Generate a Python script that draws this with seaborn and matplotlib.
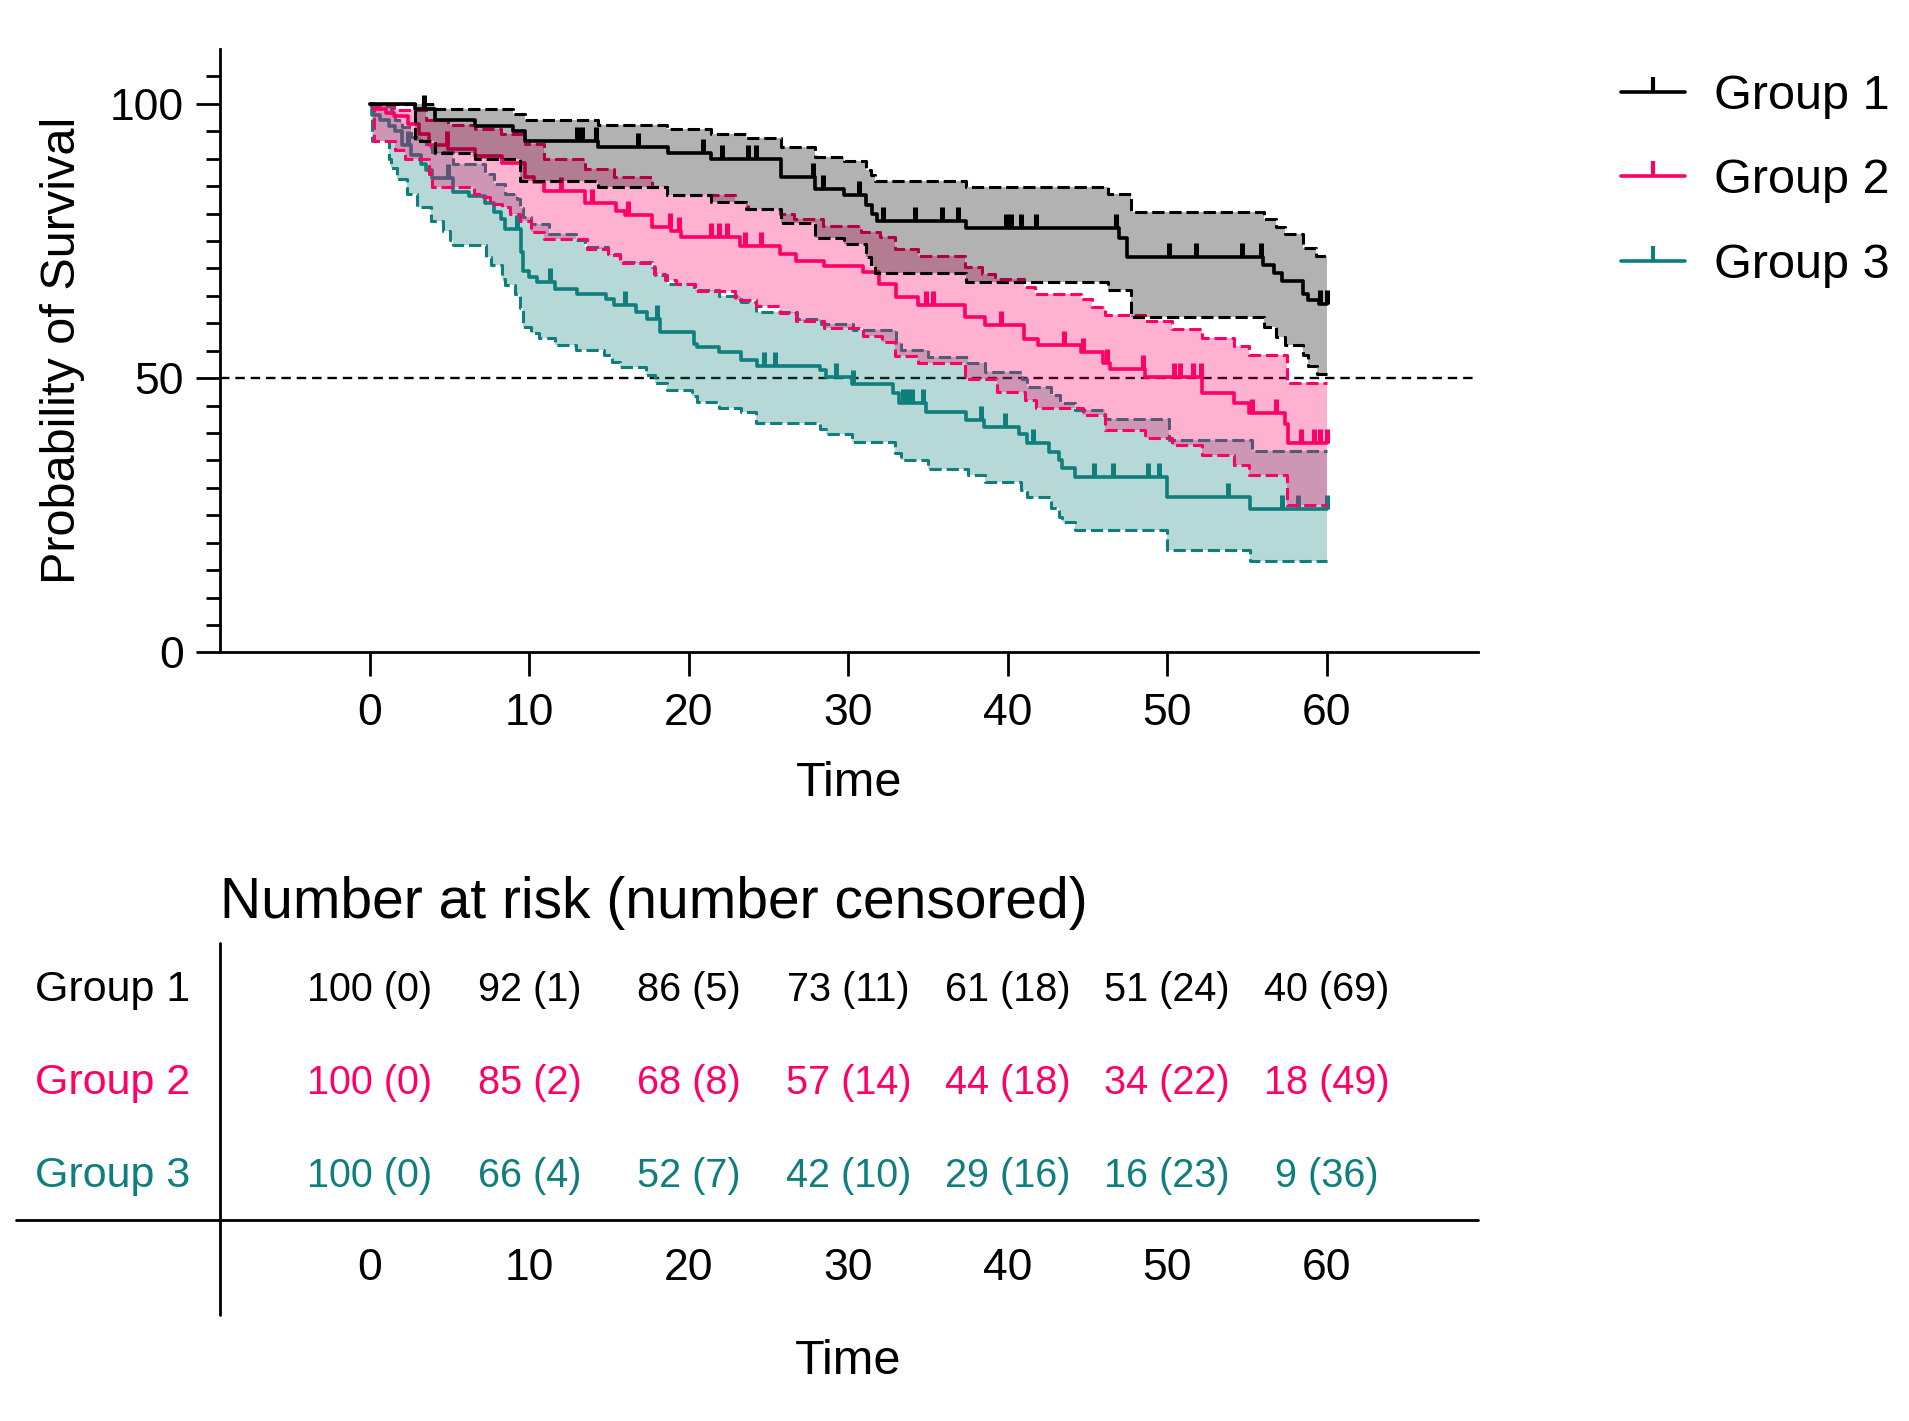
import numpy as np
import seaborn as sns
import matplotlib.pyplot as plt
from matplotlib.lines import Line2D

# ---- Kaplan-Meier steps (time, % surviving) ----
g1_t = [0, 2.8, 4.1, 6.6, 9.0, 9.7, 14.3, 18.7, 21.4, 25.8, 27.9, 29.7, 31.1, 31.5, 31.8,
        37.4, 47.0, 47.5, 56.0, 56.7, 57.2, 58.5, 58.8, 59.5, 60]
g1_s = [100, 99, 97, 96, 95, 93.3, 92.1, 91.0, 90.0, 86.7, 84.5, 83.3, 81.5, 80.0, 78.7,
        77.4, 75.5, 72.0, 70.6, 69.2, 67.7, 65.4, 64.2, 63.6, 63.6]
g1_hi_t = [0, 4.1, 9.0, 9.7, 14.3, 18.6, 21.4, 23.6, 25.8, 27.9, 29.7, 31.1, 31.4, 31.7, 37.4,
           46.3, 47.7, 56.1, 56.8, 57.4, 58.5, 59.3, 60]
g1_hi = [100, 99.1, 98.2, 97.0, 96.1, 95.5, 94.5, 93.7, 92.1, 90.4, 89.6, 88.0, 87.0, 85.9, 84.8,
         83.6, 80.3, 79.0, 77.5, 76.3, 73.8, 72.3, 72.3]
g1_lo_t = [0, 2.8, 4.1, 6.6, 9.4, 14.3, 18.6, 21.4, 23.6, 25.8, 27.9, 29.7, 31.1, 31.4, 31.7,
           37.4, 46.3, 47.7, 56.1, 56.8, 57.4, 58.5, 58.8, 59.4, 60]
g1_lo = [100, 93.3, 91.1, 89.9, 86.0, 84.8, 83.3, 82.1, 80.9, 78.2, 75.5, 74.4, 72.0, 70.5, 69.2,
         67.6, 66.1, 61.2, 59.3, 57.5, 56.0, 54.2, 52.3, 50.8, 50.8]
g1_cens = [3.4, 13.0, 13.3, 14.2, 16.8, 20.9, 22.1, 23.7, 24.2, 27.8, 28.4, 30.7, 32.2, 34.2,
           35.9, 36.9, 39.9, 40.2, 40.8, 41.8, 46.8, 50.1, 51.8, 54.7, 55.9, 59.6, 60.0]

g2_t = [0, 0.25, 1.0, 1.5, 2.4, 3.05, 3.7, 4.9, 6.6, 8.3, 9.7, 10.3, 10.9, 13.5, 15.4, 16.0,
        17.7, 18.9, 19.5, 23.2, 25.7, 26.7, 28.5, 30.9, 31.9, 33.0, 34.4, 37.3, 38.6, 41.0,
        41.9, 44.6, 46.0, 46.4, 48.6, 52.2, 54.2, 55.1, 57.4, 57.6, 60]
g2_s = [100, 99, 98.4, 97.8, 96.3, 94.5, 92.5, 91.7, 90.5, 89.3, 86.6, 85.7, 84.2, 82.0, 80.5,
        79.8, 77.6, 76.9, 75.7, 74.0, 72.6, 71.3, 70.5, 69.3, 67.2, 64.8, 63.3, 61.2, 59.6,
        57.2, 56.0, 54.8, 52.7, 51.6, 50.2, 47.2, 45.4, 43.6, 41.7, 38.1, 38.1]
g2_hi_t = [0, 0.25, 1.5, 3.5, 4.9, 6.6, 8.2, 9.7, 10.9, 13.5, 15.3, 17.7, 18.6, 22.9, 23.7,
           25.7, 26.6, 28.4, 30.8, 32.0, 32.9, 34.4, 37.3, 38.4, 39.2, 41.0, 41.7, 44.6, 45.3,
           46.1, 48.6, 50.3, 52.2, 54.2, 55.1, 57.5, 60]
g2_hi = [100, 99.8, 98.8, 97.0, 96.1, 95.5, 94.5, 92.7, 90.0, 88.1, 86.6, 84.8, 83.3, 82.1, 80.9,
         79.9, 79.0, 77.8, 76.6, 75.7, 73.6, 72.3, 70.3, 69.0, 68.1, 66.6, 65.4, 64.5, 62.9,
         61.6, 60.5, 59.0, 57.4, 55.8, 54.2, 49.1, 49.1]
g2_lo_t = [0, 0.25, 1.6, 2.2, 3.7, 3.9, 6.5, 7.1, 7.5, 8.3, 8.8, 9.4, 10.1, 10.9, 13.6, 14.9,
           15.7, 17.8, 18.5, 19.2, 20.4, 22.9, 24.2, 25.7, 26.7, 28.5, 30.9, 32.1, 32.9, 34.4,
           37.3, 39.3, 41.1, 41.8, 44.7, 46.1, 48.6, 50.3, 52.2, 54.2, 55.1, 57.5, 60]
g2_lo = [100, 93.3, 91.5, 89.9, 87.2, 84.8, 83.6, 83.0, 81.8, 81.2, 80.0, 78.7, 76.6, 75.3,
         73.5, 72.4, 71.0, 69.0, 67.8, 67.2, 65.9, 64.2, 63.2, 61.9, 60.5, 59.2, 57.6, 56.6,
         54.0, 52.7, 49.8, 47.4, 46.0, 44.6, 43.2, 40.5, 39.0, 37.8, 36.0, 34.2, 32.3, 26.9, 26.9]
g2_cens = [4.8, 12.0, 13.9, 16.2, 18.8, 19.4, 21.4, 21.9, 22.4, 23.5, 24.5, 34.9, 35.3, 39.6,
           43.5, 44.7, 46.2, 48.5, 50.4, 50.8, 51.6, 52.1, 55.3, 56.8, 58.4, 59.2, 59.6, 60.0]

g3_t = [0, 0.1, 0.6, 1.2, 1.6, 2.0, 2.6, 3.2, 3.5, 3.9, 5.2, 6.2, 7.2, 7.8, 8.2, 8.45, 9.5,
        9.6, 10.0, 10.5, 11.6, 13.0, 14.8, 15.3, 16.7, 17.4, 18.2, 20.3, 20.5, 21.9, 23.3, 24.3,
        28.2, 28.6, 30.2, 32.8, 33.2, 34.9, 37.4, 38.5, 40.7, 41.2, 42.6, 43.2, 43.4, 44.2,
        50.0, 55.2, 60]
g3_s = [100, 98, 97, 96, 95, 92.5, 90.6, 89.0, 88.0, 86.5, 84.0, 83.2, 82.0, 80.3, 79.0, 77.2,
        73.0, 69.6, 68.4, 67.5, 66.3, 65.4, 64.5, 63.3, 62.0, 60.8, 58.4, 56.3, 55.7, 54.7,
        53.3, 52.3, 51.4, 50.2, 49.0, 47.2, 45.4, 43.8, 42.3, 41.1, 39.9, 38.1, 36.6, 35.0,
        33.6, 32.0, 28.4, 26.2, 26.2]
g3_hi_t = [0, 0.1, 1.3, 1.6, 2.0, 2.6, 3.2, 3.5, 3.9, 5.2, 7.2, 7.8, 8.45, 9.2, 9.4, 9.6, 10.1,
           11.2, 12.9, 13.5, 14.9, 15.7, 17.7, 17.9, 18.6, 20.3, 21.9, 23.3, 24.2, 26.8, 28.3,
           30.3, 33.0, 33.3, 35.0, 37.5, 38.6, 40.9, 41.2, 42.7, 43.3, 44.2, 46.1, 50.1, 55.3, 60]
g3_hi = [100, 99.7, 98.8, 97.0, 95.7, 94.0, 93.3, 92.1, 91.2, 89.0, 87.2, 85.4, 83.6, 82.7,
         81.1, 79.3, 78.1, 76.3, 75.1, 73.9, 72.7, 71.1, 70.2, 68.8, 67.2, 66.0, 65.0, 63.9,
         62.0, 60.8, 59.9, 58.7, 56.6, 55.1, 53.9, 52.7, 51.1, 49.8, 48.4, 46.9, 45.4, 44.2,
         42.5, 38.7, 36.7, 36.7]
g3_lo_t = [0, 0.1, 1.2, 1.3, 1.7, 2.3, 2.95, 3.8, 4.6, 5.0, 5.2, 7.3, 7.6, 8.25, 8.45, 9.1, 9.4,
           9.6, 10.1, 10.6, 11.6, 12.9, 14.7, 15.2, 15.7, 17.3, 17.9, 18.6, 20.2, 20.5, 21.9,
           23.3, 24.2, 28.2, 28.6, 30.2, 32.9, 33.3, 35.0, 37.5, 38.6, 40.8, 41.2, 42.7, 43.2,
           43.4, 44.2, 50.0, 55.2, 60]
g3_lo = [100, 93.3, 90.0, 88.4, 86.3, 83.6, 81.2, 78.7, 76.9, 75.1, 74.2, 72.1, 70.6, 68.1,
         66.9, 65.4, 62.7, 59.3, 58.2, 57.4, 56.0, 55.1, 54.2, 53.0, 52.0, 50.5, 49.2, 47.8,
         46.7, 45.7, 44.5, 43.9, 41.9, 40.8, 39.9, 38.4, 36.3, 35.1, 33.5, 32.3, 31.1, 29.6,
         28.4, 26.3, 24.7, 23.8, 22.4, 18.7, 16.6, 16.6]
g3_cens = [2.4, 4.9, 9.2, 11.3, 16.0, 18.0, 24.7, 25.4, 29.2, 30.3, 33.4, 33.7, 34.0, 34.7,
           38.3, 39.8, 41.6, 45.4, 46.6, 48.8, 49.5, 53.8, 57.2, 58.2, 60.0]

# ---- number at risk table ----
risk_times = [0, 10, 20, 30, 40, 50, 60]
g1_risk = [100, 92, 86, 73, 61, 51, 40]
g1_ncens = [0, 1, 5, 11, 18, 24, 69]
g2_risk = [100, 85, 68, 57, 44, 34, 18]
g2_ncens = [0, 2, 8, 14, 18, 22, 49]
g3_risk = [100, 66, 52, 42, 29, 16, 9]
g3_ncens = [0, 4, 7, 10, 16, 23, 36]

names = ['Group 1', 'Group 2', 'Group 3']
colors = ['#000000', '#FF0066', '#0F7F7D']


def step_at(t, xs, ys):
    idx = np.searchsorted(xs, t, side='right') - 1
    return np.asarray(ys, dtype=float)[np.clip(idx, 0, None)]


sns.set_theme(style='ticks')
plt.rcParams['font.family'] = ['Liberation Sans', 'DejaVu Sans']
plt.rcParams['axes.linewidth'] = 2.0
plt.rcParams['text.color'] = 'black'
plt.rcParams['axes.labelcolor'] = 'black'

fig = plt.figure(figsize=(19.09, 14.21), dpi=100)
ax = fig.add_axes([0.1153, 0.5409, 0.659, 0.4246])
ax2 = fig.add_axes([0.1153, 0.0743, 0.659, 0.2618])

groups = [
    (g1_t, g1_s, g1_lo_t, g1_lo, g1_hi_t, g1_hi, g1_cens),
    (g2_t, g2_s, g2_lo_t, g2_lo, g2_hi_t, g2_hi, g2_cens),
    (g3_t, g3_s, g3_lo_t, g3_lo, g3_hi_t, g3_hi, g3_cens),
]

ax.axhline(50, color='black', lw=1.7, ls=(0, (4, 2.5)), zorder=1)

# draw group 3 first so later bands tint the earlier lines (as in the original)
for k in [2, 1, 0]:
    t, s, lo_t, lo, hi_t, hi, cens = groups[k]
    c = colors[k]
    base = 2 + (2 - k) * 2
    sns.lineplot(x=t, y=s, drawstyle='steps-post', color=c, lw=2.6, ax=ax,
                 estimator=None, sort=False, legend=False, zorder=base)
    for xs, ys in [(lo_t, lo), (hi_t, hi)]:
        sns.lineplot(x=xs, y=ys, drawstyle='steps-post', color=c, lw=2.2,
                     linestyle=(0, (4, 1.6)), ax=ax, estimator=None, sort=False,
                     legend=False, zorder=base)
    ax.plot(cens, step_at(cens, t, s), ls='none', marker=2, ms=10, mew=3.6,
            color=c, zorder=base)
    grid = np.union1d(lo_t, hi_t)
    ax.fill_between(grid, step_at(grid, lo_t, lo), step_at(grid, hi_t, hi),
                    step='post', color=c, alpha=0.3, lw=0, zorder=base + 1)

ax.set_xlim(-9.4, 69.5)
ax.set_ylim(0, 110)
ax.set_xticks(risk_times)
ax.set_yticks([0, 50, 100])
ax.set_yticks([v for v in range(5, 110, 5) if v % 50], minor=True)
ax.tick_params(axis='both', which='major', length=17, width=2.0, pad=9,
               labelsize=32, color='black', labelcolor='black')
ax.tick_params(axis='x', which='major', pad=12)
ax.tick_params(axis='y', which='minor', length=10, width=2.0, color='black')
sns.despine(ax=ax)
for sp in ['left', 'bottom']:
    ax.spines[sp].set_color('black')
ax.set_xlabel('Time', fontsize=35, labelpad=20, color='black')
ax.set_ylabel('Probability of Survival', fontsize=35, labelpad=18, color='black')

handles = [Line2D([], [], color=c, lw=2.6, marker=2, ms=11, mew=3.0) for c in colors]
fig.legend(handles, names, loc='upper left', bbox_to_anchor=(0.849, 0.948),
           frameon=False, fontsize=35, handlelength=1.33, handletextpad=0.58,
           labelspacing=0.81, borderpad=0, borderaxespad=0, numpoints=1,
           labelcolor='black')

# ---- risk table ----
ax2.set_xlim(-9.4, 69.5)
ax2.set_ylim(-0.5, 3.5)
ax2.axis('off')
ax2.plot([0, 0], [0, 1], transform=ax2.transAxes, color='black', lw=2.0, clip_on=False)
ax2.axhline(0.53, xmin=-0.162, xmax=1.0, color='black', lw=2.0, clip_on=False)
ylab = ax2.get_yaxis_transform()
ax2.text(0, 3.93, 'Number at risk (number censored)', transform=ylab, ha='left',
         va='center', fontsize=41, color='black')
risk = [(g1_risk, g1_ncens), (g2_risk, g2_ncens), (g3_risk, g3_ncens)]
for i, (nr, nc) in enumerate(risk):
    y = 3 - i
    ax2.text(-0.024, y, names[i], transform=ylab, ha='right', va='center',
             fontsize=31, color=colors[i])
    for tt, a, b in zip(risk_times, nr, nc):
        ax2.text(tt, y, f'{a} ({b})', ha='center', va='center', fontsize=28.5,
                 color=colors[i])
for tt in risk_times:
    ax2.text(tt, 0, str(tt), ha='center', va='center', fontsize=32, color='black')
ax2.text(30, -1.0, 'Time', ha='center', va='center', fontsize=35, color='black')

fig.savefig('out.png', dpi=100, facecolor='white')
